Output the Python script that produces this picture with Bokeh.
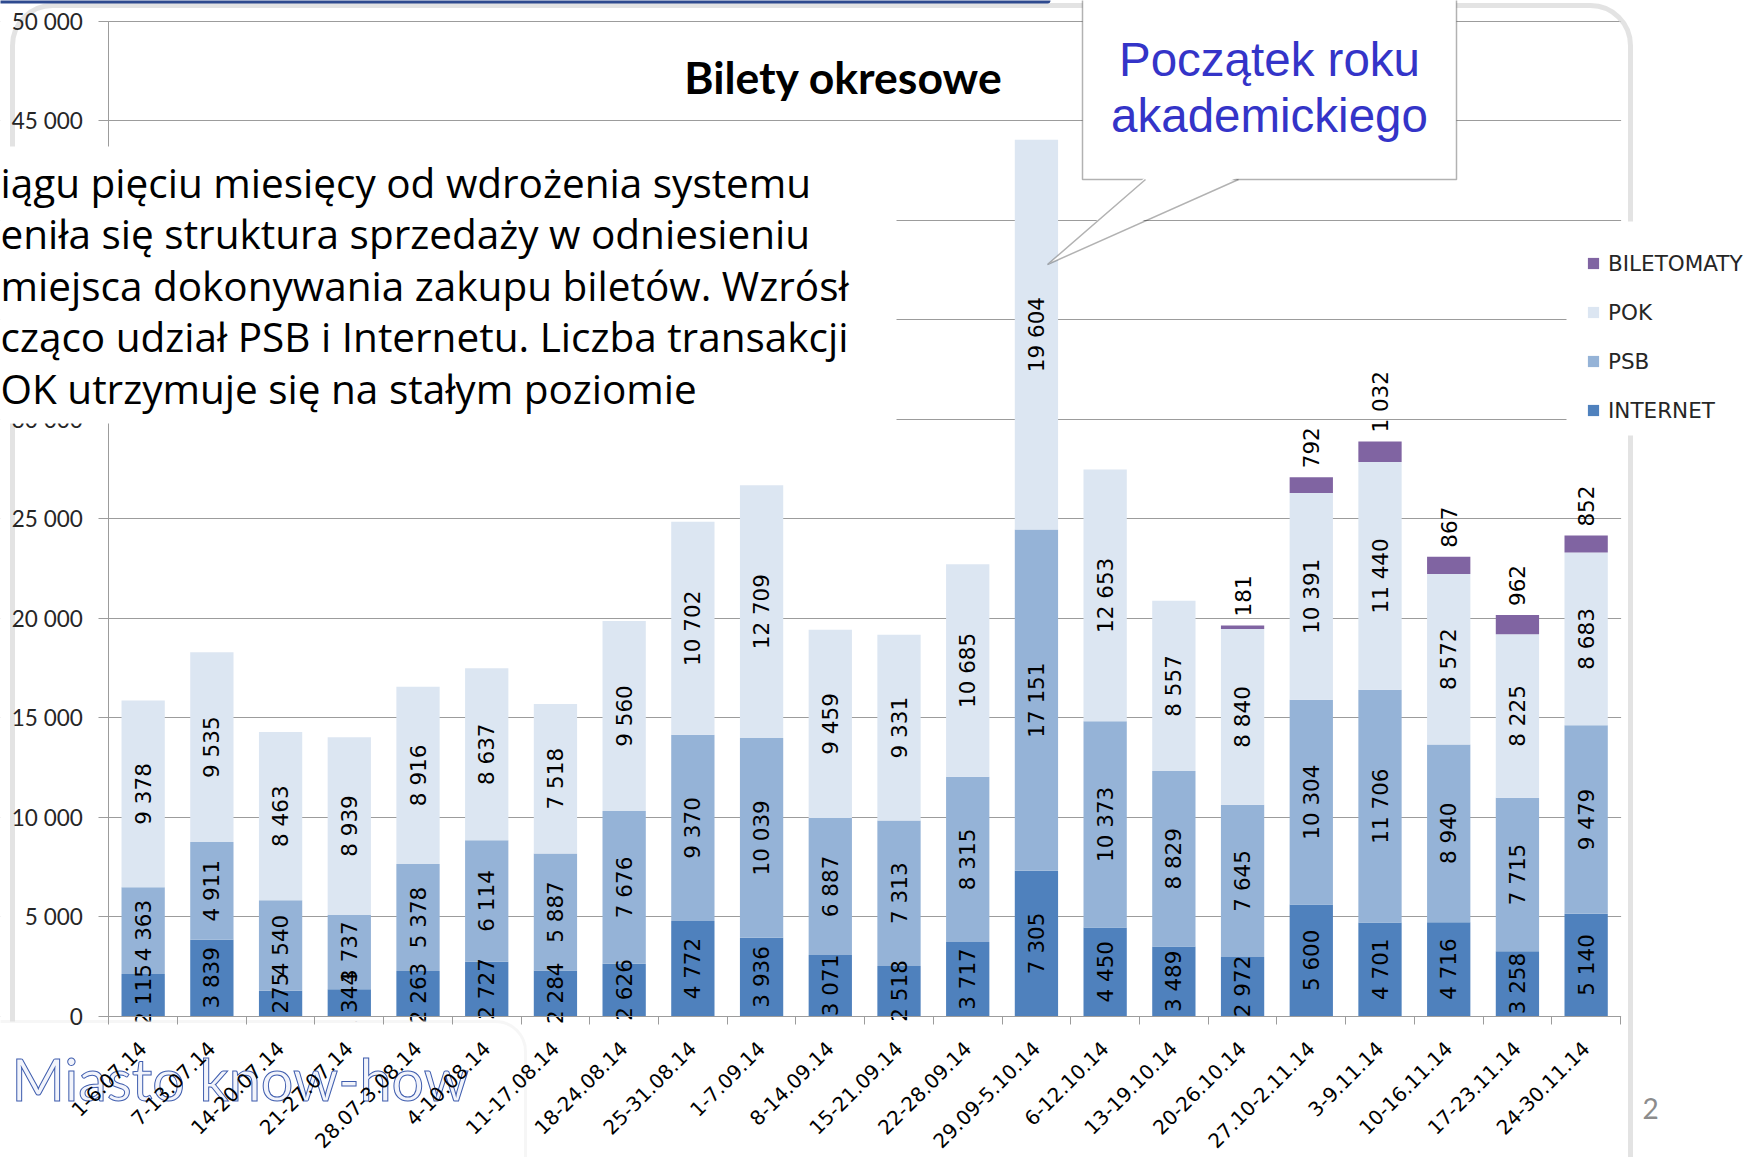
import math
from bokeh.plotting import figure
from bokeh.models import (ColumnDataSource, Range1d, FixedTicker, BoxAnnotation, PolyAnnotation,
                          Label, Legend, LegendItem)
from bokeh.core.properties import value
from bokeh.embed import file_html
from bokeh.resources import INLINE

# ---------------- data ----------------
categories = ["1-6.07.14", "7-13.07.14", "14-20.07.14", "21-27.07.14", "28.07-3.08.14",
              "4-10.08.14", "11-17.08.14", "18-24.08.14", "25-31.08.14", "1-7.09.14",
              "8-14.09.14", "15-21.09.14", "22-28.09.14", "29.09-5.10.14", "6-12.10.14",
              "13-19.10.14", "20-26.10.14", "27.10-2.11.14", "3-9.11.14", "10-16.11.14",
              "17-23.11.14", "24-30.11.14"]
internet = [2115, 3839, 1275, 1344, 2263, 2727, 2284, 2626, 4772, 3936, 3071, 2518, 3717,
            7305, 4450, 3489, 2972, 5600, 4701, 4716, 3258, 5140]
psb = [4363, 4911, 4540, 3737, 5378, 6114, 5887, 7676, 9370, 10039, 6887, 7313, 8315,
       17151, 10373, 8829, 7645, 10304, 11706, 8940, 7715, 9479]
pok = [9378, 9535, 8463, 8939, 8916, 8637, 7518, 9560, 10702, 12709, 9459, 9331, 10685,
       19604, 12653, 8557, 8840, 10391, 11440, 8572, 8225, 8683]
biletomaty = [0, 0, 0, 0, 0, 0, 0, 0, 0, 0, 0, 0, 0, 0, 0, 0, 181, 792, 1032, 867, 962, 852]

series = ["INTERNET", "PSB", "POK", "BILETOMATY"]
colors = ["#4F81BD", "#95B3D7", "#DCE6F2", "#8064A2"]
legend_order = ["BILETOMATY", "POK", "PSB", "INTERNET"]

y_ticks = [0, 5000, 10000, 15000, 20000, 25000, 30000, 35000, 40000, 45000, 50000]
y_tick_labels = ["0", "5 000", "10 000", "15 000", "20 000", "25 000", "30 000",
                 "35 000", "40 000", "45 000", "50 000"]

title_text = "Bilety okresowe"
box_lines = ["iągu pięciu miesięcy od wdrożenia systemu",
             "eniła się struktura sprzedaży w odniesieniu",
             "miejsca dokonywania zakupu biletów. Wzrósł",
             "cząco udział PSB i Internetu. Liczba transakcji",
             "OK utrzymuje się na stałym poziomie"]
callout_lines = ["Początek roku", "akademickiego"]
logo_text = "Miasto know-how"
page_number = "2"

# ---------------- layout helpers (page pixels -> data units) ----------------
N = len(categories)
W, H = 1750, 1157
FRAME_L, FRAME_R, FRAME_T, FRAME_B = 108.3, 1620.0, 21.0, 1015.5   # page pixels of the plot area
YMAX = 50000


def dx(X):
    return (X - FRAME_L) / ((FRAME_R - FRAME_L) / N)


def dy(Y):
    return (FRAME_B - Y) / ((FRAME_B - FRAME_T) / YMAX)


def fmt(v):
    return f"{v:,}".replace(",", " ")


p = figure(width=W, height=H, output_backend="svg", toolbar_location=None, title=None,
           x_range=Range1d(dx(0), dx(W)), y_range=Range1d(dy(H), dy(0)),
           min_border_left=0, min_border_right=0, min_border_top=0, min_border_bottom=0)
p.outline_line_color = None
p.background_fill_color = "white"
p.border_fill_color = "white"

xs = [i + 0.5 for i in range(N)]
src = ColumnDataSource(dict(x=xs, INTERNET=internet, PSB=psb, POK=pok, BILETOMATY=biletomaty))
rs = p.vbar_stack(series, x="x", width=0.63, fill_color=colors, line_color=None, source=src)

# ---------------- axes & grid ----------------
GRAY = "#9C9C9C"
p.xgrid.grid_line_color = None
p.ygrid.grid_line_color = GRAY
p.ygrid.ticker = FixedTicker(ticks=y_ticks)

p.yaxis.fixed_location = 0
p.yaxis.bounds = (0, YMAX)
p.yaxis.ticker = FixedTicker(ticks=y_ticks)
p.yaxis.major_label_overrides = dict(zip(y_ticks, y_tick_labels))
p.yaxis.minor_tick_line_color = None
p.yaxis.major_tick_out = 10
p.yaxis.major_tick_in = 0
p.yaxis.major_tick_line_color = GRAY
p.yaxis.axis_line_color = GRAY
p.yaxis.major_label_text_font = "Lato"
p.yaxis.major_label_text_font_size = "22.5px"
p.yaxis.major_label_text_color = "#262626"
p.yaxis.major_label_standoff = 16

p.xaxis.fixed_location = 0
p.xaxis.bounds = (0, N)
p.xaxis.ticker = FixedTicker(ticks=xs, minor_ticks=list(range(N + 1)))
p.xaxis.major_label_overrides = dict(zip(xs, categories))
p.xaxis.major_tick_line_color = None
p.xaxis.major_tick_out = 0
p.xaxis.major_tick_in = 0
p.xaxis.minor_tick_in = 0
p.xaxis.minor_tick_out = 8
p.xaxis.minor_tick_line_color = GRAY
p.xaxis.axis_line_color = GRAY
p.xaxis.major_label_orientation = math.pi / 4
p.xaxis.major_label_text_font = "DejaVu Sans"
p.xaxis.major_label_text_font_size = "20px"
p.xaxis.major_label_text_color = "#000000"
p.xaxis.major_label_standoff = 21

# hide grid lines outside of the plot area
p.add_layout(BoxAnnotation(left=dx(-20), right=dx(FRAME_L - 0.6), top=dy(-20), bottom=dy(H + 20),
                           fill_color="white", fill_alpha=1, line_color=None, level="underlay"))
p.add_layout(BoxAnnotation(left=dx(FRAME_R + 0.6), right=dx(W + 20), top=dy(-20), bottom=dy(H + 20),
                           fill_color="white", fill_alpha=1, line_color=None, level="underlay"))
# slide panel edge (soft shadow)
p.add_layout(BoxAnnotation(left=dx(12), right=dx(1630), top=dy(5), bottom=dy(1400),
                           fill_alpha=0, line_color="#DADADA", line_alpha=0.75, line_width=5,
                           border_radius=40, level="underlay"))

# ---------------- data labels ----------------
lx, ly, lt = [], [], []
for i in range(N):
    base = 0
    for vals in (internet, psb, pok):
        v = vals[i]
        lx.append(xs[i]); ly.append(base + v / 2); lt.append(fmt(v))
        base += v
p.text(x=lx, y=ly, text=lt, angle=math.pi / 2, text_align="center", text_baseline="middle",
       text_font=value("DejaVu Sans"), text_font_size="21.5px", text_color="#000000")

bx, by, bt = [], [], []
for i in range(N):
    if biletomaty[i] > 0:
        bx.append(xs[i])
        by.append(internet[i] + psb[i] + pok[i] + biletomaty[i])
        bt.append(fmt(biletomaty[i]))
p.text(x=bx, y=by, text=bt, angle=math.pi / 2, text_align="left", text_baseline="middle",
       y_offset=-9, text_font=value("DejaVu Sans"), text_font_size="21.5px", text_color="#000000")

# ---------------- logo panel (bottom-left) ----------------
p.add_layout(BoxAnnotation(left=dx(-40), right=dx(525), top=dy(1021), bottom=dy(1400),
                           fill_color="white", fill_alpha=1, line_color="#E0E0E0", line_width=3,
                           border_radius=30, level="glyph"))
logo_kw = dict(text_color="#3F5DAE")
if "text_outline_color" in Label.properties():
    logo_kw = dict(text_color="#F2F4FB", text_outline_color="#3F5DAE")
p.add_layout(Label(x=dx(11), y=dy(1078), text=logo_text, text_font="Lato", text_font_size="57.5px",
                   text_baseline="middle", level="glyph", **logo_kw))

# ---------------- slide elements on top ----------------
p.add_layout(BoxAnnotation(left=dx(-20), right=dx(1050), top=dy(-10), bottom=dy(3),
                           fill_color="#2E4A8F", fill_alpha=1, line_color=None, border_radius=3))

# text box covering upper-left part of chart
p.add_layout(BoxAnnotation(left=dx(-30), right=dx(896), top=dy(146), bottom=dy(423),
                           fill_color="white", fill_alpha=1, line_color=None))
for k, line in enumerate(box_lines):
    p.add_layout(Label(x=dx(0), y=dy(182 + 51.4 * k), text=line, text_font="Open Sans",
                       text_font_size="40.5px", text_color="#000000", text_baseline="middle"))

# chart title
p.add_layout(Label(x=dx(843), y=dy(76), text=title_text, text_font="Lato", text_font_style="bold",
                   text_font_size="44.5px", text_color="#000000", text_align="center",
                   text_baseline="middle"))

# callout
p.add_layout(BoxAnnotation(left=dx(1082), right=dx(1456), top=dy(-30), bottom=dy(179),
                           fill_color="white", fill_alpha=1, line_color="#000000", line_width=1.5))
p.add_layout(PolyAnnotation(xs=[dx(1145), dx(1047), dx(1238)], ys=[dy(176.5), dy(264), dy(176.5)],
                            fill_color="white", fill_alpha=1, line_color=None))
p.add_layout(PolyAnnotation(xs=[dx(1145), dx(1047), dx(1238), dx(1047)],
                            ys=[dy(179), dy(264), dy(179), dy(264)],
                            fill_alpha=0, line_color="#000000", line_width=1.5))
for k, line in enumerate(callout_lines):
    p.add_layout(Label(x=dx(1269), y=dy(59 + 56 * k), text=line, text_font="Liberation Sans",
                       text_font_size="47.5px", text_color="#3434C8", text_align="center",
                       text_baseline="middle"))

# legend area
p.add_layout(BoxAnnotation(left=dx(1566), right=dx(W + 30), top=dy(221), bottom=dy(435),
                           fill_color="white", fill_alpha=1, line_color=None))
items = [LegendItem(label=name, renderers=[rs[series.index(name)]]) for name in legend_order]
legend = Legend(items=items, location=(1586, H - 422.7), orientation="vertical",
                glyph_width=14, glyph_height=14, label_height=22, spacing=24, padding=10,
                margin=0, label_standoff=8, border_line_color=None, background_fill_alpha=0,
                label_text_font="DejaVu Sans", label_text_font_size="21.5px",
                label_text_color="#262626")
p.add_layout(legend)

p.add_layout(Label(x=dx(1650), y=dy(1108), text=page_number, text_font="Lato",
                   text_font_size="28px", text_color="#8C8C8C", text_align="center",
                   text_baseline="middle"))

open("out.html", "w").write(file_html(p, INLINE))
